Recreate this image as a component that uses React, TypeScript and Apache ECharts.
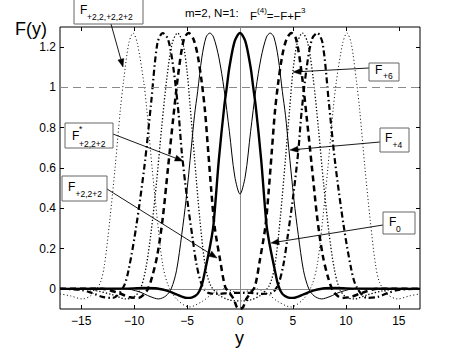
import React, { useEffect, useRef } from 'react';
import * as echarts from 'echarts';

// Tick labels
const xTicks = [-15, -10, -5, 0, 5, 10, 15];
const yTicks = [0, 0.2, 0.4, 0.6, 0.8, 1, 1.2];

// F_0 : thick solid, single pulse at 0
const F0: [number, number][] = [
  [-17, 0], [-11, 0.001], [-9, 0.004], [-8, 0.003], [-7, -0.008], [-6, -0.027], [-5.5, -0.038],
  [-5, -0.045], [-4.5, -0.042], [-4, -0.025], [-3.6, 0.02], [-3.3, 0.09], [-2.8, 0.22], [-2.5, 0.32],
  [-2, 0.64], [-1.5, 0.9], [-1.25, 1.0], [-1, 1.1], [-0.5, 1.23], [0, 1.27],
  [0.5, 1.23], [1, 1.1], [1.25, 1.0], [1.5, 0.9], [2, 0.64], [2.5, 0.32], [2.8, 0.22], [3.3, 0.09],
  [3.6, 0.02], [4, -0.025], [4.5, -0.042], [5, -0.045], [5.5, -0.038], [6, -0.027], [7, -0.008],
  [8, 0.003], [9, 0.004], [11, 0.001], [17, 0],
];

// F_+4 : thin solid, two pulses at +-2.85
const F4: [number, number][] = [
  [-17, 0], [-11, 0.002], [-9.5, -0.015], [-8.5, -0.038], [-7.7, -0.05], [-7, -0.035], [-6.5, 0],
  [-6, 0.09], [-5.5, 0.27], [-5.1, 0.44], [-4.6, 0.7], [-4.3, 0.86], [-4, 0.98], [-3.6, 1.15],
  [-3.2, 1.25], [-2.85, 1.27], [-2.5, 1.25], [-2, 1.15], [-1.5, 0.99], [-1, 0.78], [-0.5, 0.56], [0, 0.47],
  [0.5, 0.56], [1, 0.78], [1.5, 0.99], [2, 1.15], [2.5, 1.25], [2.85, 1.27], [3.2, 1.25], [3.6, 1.15],
  [4, 0.98], [4.3, 0.86], [4.6, 0.7], [5.1, 0.44], [5.5, 0.27], [6, 0.09], [6.5, 0], [7, -0.035],
  [7.7, -0.05], [8.5, -0.038], [9.5, -0.015], [11, 0.002], [17, 0],
];

// F_+2,2+2 : thick dashed, pulses at +-4.85
const F222: [number, number][] = [
  [-17, 0], [-13, 0], [-11.5, -0.02], [-10.5, -0.04], [-9.6, -0.045], [-8.8, -0.01], [-8.3, 0.06],
  [-7.8, 0.17], [-7.3, 0.35], [-6.8, 0.6], [-6.3, 0.85], [-5.85, 1.06], [-5.3, 1.24], [-4.85, 1.27],
  [-4.4, 1.24], [-4, 1.16], [-3.6, 1.02], [-3.3, 0.88], [-3, 0.68], [-2.7, 0.48], [-2.4, 0.31],
  [-1.9, 0.15], [-1.4, 0.01], [-1, -0.02], [-0.6, -0.05], [-0.3, -0.09], [0, -0.1],
  [0.3, -0.09], [0.6, -0.05], [1, -0.02], [1.4, 0.01], [1.9, 0.15], [2.4, 0.31], [2.7, 0.48],
  [3, 0.68], [3.3, 0.88], [3.6, 1.02], [4, 1.16], [4.4, 1.24], [4.85, 1.27], [5.3, 1.24], [5.85, 1.06],
  [6.3, 0.85], [6.8, 0.6], [7.3, 0.35], [7.8, 0.17], [8.3, 0.06], [8.8, -0.01], [9.6, -0.045],
  [10.5, -0.04], [11.5, -0.02], [13, 0], [17, 0],
];

// F*_+2,2+2 : thick dash-dot, pulses at +-7.3
const FStar: [number, number][] = [
  [-17, 0], [-15, -0.005], [-14, -0.02], [-13, -0.04], [-12, -0.045], [-11, 0.01], [-10.5, 0.1],
  [-9.8, 0.31], [-9, 0.62], [-8.4, 0.92], [-7.8, 1.22], [-7.3, 1.27], [-6.8, 1.24], [-6.3, 1.1],
  [-5.8, 0.87], [-5.5, 0.68], [-5, 0.45], [-4.5, 0.26], [-4.1, 0.12], [-3.6, 0.02], [-3, -0.02],
  [-2, -0.025], [-1, -0.02], [0, -0.02],
  [1, -0.02], [2, -0.025], [3, -0.02], [3.6, 0.02], [4.1, 0.12], [4.5, 0.26], [5, 0.45], [5.5, 0.68],
  [5.8, 0.87], [6.3, 1.1], [6.8, 1.24], [7.3, 1.27], [7.8, 1.22], [8.4, 0.92], [9, 0.62], [9.8, 0.31],
  [10.5, 0.1], [11, 0.01], [12, -0.045], [13, -0.04], [14, -0.02], [15, -0.005], [17, 0],
];

// F_+6 : dotted, pulses at +-5.9
const F6: [number, number][] = [
  [-17, 0], [-15, 0], [-13.5, -0.01], [-12, -0.03], [-10.8, -0.05], [-10, -0.04], [-9.4, 0],
  [-8.9, 0.1], [-8.4, 0.28], [-7.9, 0.52], [-7.4, 0.8], [-6.9, 1.05], [-6.4, 1.22], [-5.9, 1.27],
  [-5.4, 1.22], [-5, 1.08], [-4.7, 0.9], [-4.3, 0.65], [-3.8, 0.35], [-3.3, 0.12], [-2.8, 0.02],
  [-2, -0.03], [-1, -0.055], [0, -0.06],
  [1, -0.055], [2, -0.03], [2.8, 0.02], [3.3, 0.12], [3.8, 0.35], [4.3, 0.65], [4.7, 0.9], [5, 1.08],
  [5.4, 1.22], [5.9, 1.27], [6.4, 1.22], [6.9, 1.05], [7.4, 0.8], [7.9, 0.52], [8.4, 0.28], [8.9, 0.1],
  [9.4, 0], [10, -0.04], [10.8, -0.05], [12, -0.03], [13.5, -0.01], [15, 0], [17, 0],
];

// F_+2,2,+2,2+2 : thin dotted, pulses at +-10.1
const F22222: [number, number][] = [
  [-17, -0.025], [-16, -0.035], [-14.9, -0.05], [-14, -0.03], [-13.2, 0.03], [-12.8, 0.12],
  [-12.3, 0.34], [-11.8, 0.6], [-11.3, 0.89], [-11, 1.03], [-10.5, 1.22], [-10.1, 1.27], [-9.7, 1.22],
  [-9.1, 1.03], [-8.8, 0.89], [-8.3, 0.6], [-7.8, 0.34], [-7.3, 0.12], [-6.8, 0.02], [-6, -0.05],
  [-4.8, -0.09], [-3.5, -0.06], [-2.5, -0.02], [-1.5, 0], [0, -0.02],
  [1.5, 0], [2.5, -0.02], [3.5, -0.06], [4.8, -0.09], [6, -0.05], [6.8, 0.02], [7.3, 0.12], [7.8, 0.34],
  [8.3, 0.6], [8.8, 0.89], [9.1, 1.03], [9.7, 1.22], [10.1, 1.27], [10.5, 1.22], [11, 1.03], [11.3, 0.89],
  [11.8, 0.6], [12.3, 0.34], [12.8, 0.12], [13.2, 0.03], [14, -0.03], [14.9, -0.05], [16, -0.035],
  [17, -0.025],
];

const FONT = 'Liberation Sans, Arial, Helvetica, sans-serif';

function txt(x: number, y: number, s: string, size: number, extra: any = {}) {
  return {
    type: 'text', x, y, z: 110,
    style: { text: s, fontSize: size, fontFamily: FONT, fill: '#000', verticalAlign: 'middle', align: 'left', ...extra },
  };
}
function box(x: number, y: number, w: number, h: number) {
  return {
    type: 'rect', z: 105, shape: { x, y, width: w, height: h },
    style: { fill: '#fff', stroke: '#666', lineWidth: 1 },
  };
}
function arrow(x1: number, y1: number, x2: number, y2: number) {
  const dx = x2 - x1, dy = y2 - y1;
  const L = Math.sqrt(dx * dx + dy * dy);
  const ux = dx / L, uy = dy / L;
  const len = 8, hw = 3;
  const bx = x2 - ux * len, by = y2 - uy * len;
  return [
    { type: 'line', z: 104, shape: { x1, y1, x2: bx, y2: by }, style: { stroke: '#000', lineWidth: 0.9 } },
    {
      type: 'polygon', z: 104,
      shape: { points: [[x2, y2], [bx - uy * hw, by + ux * hw], [bx + uy * hw, by - ux * hw]] },
      style: { fill: '#000', stroke: '#000', lineWidth: 0.5 },
    },
  ];
}

export default function App() {
  const ref = useRef<HTMLDivElement>(null);
  useEffect(() => {
    const chart = echarts.init(ref.current!, null, { renderer: 'svg' });
    const line = (name: string, data: [number, number][], width: number, type: any, z: number) => ({
      name, type: 'line', data, showSymbol: false, smooth: 0.3, z,
      lineStyle: { color: '#000', width, type },
    });
    const axisLabelFmt = (v: number) => String(v).replace('-', '\u2212');
    const noLine = { show: false, onZero: false };
    const option: any = {
      animation: false,
      backgroundColor: '#fff',
      grid: { left: 60, right: 44, top: 27, bottom: 39, show: true, borderColor: '#000', borderWidth: 1, backgroundColor: 'transparent' },
      xAxis: [
        {
          type: 'value', min: -17, max: 17, position: 'bottom',
          axisLine: noLine, splitLine: { show: false },
          axisTick: { show: true, inside: true, length: 4, customValues: xTicks, lineStyle: { color: '#000' } },
          axisLabel: { customValues: xTicks, formatter: axisLabelFmt, color: '#000', fontSize: 12, fontFamily: FONT, margin: 6 },
        },
        {
          type: 'value', min: -17, max: 17, position: 'top',
          axisLine: noLine, splitLine: { show: false },
          axisTick: { show: true, inside: true, length: 4, customValues: xTicks, lineStyle: { color: '#000' } },
          axisLabel: { show: false },
        },
      ],
      yAxis: [
        {
          type: 'value', min: -0.1, max: 1.3, position: 'left',
          axisLine: noLine, splitLine: { show: false },
          axisTick: { show: true, inside: true, length: 4, customValues: yTicks, lineStyle: { color: '#000' } },
          axisLabel: { customValues: yTicks, color: '#000', fontSize: 12, fontFamily: FONT, margin: 4 },
        },
        {
          type: 'value', min: -0.1, max: 1.3, position: 'right',
          axisLine: noLine, splitLine: { show: false },
          axisTick: { show: true, inside: true, length: 4, customValues: yTicks, lineStyle: { color: '#000' } },
          axisLabel: { show: false },
        },
      ],
      series: [
        {
          type: 'line', data: [], z: 1, silent: true,
          markLine: {
            silent: true, symbol: ['none', 'none'], label: { show: false }, animation: false,
            data: [
              { xAxis: 0, lineStyle: { color: '#8a8a8a', width: 1, type: 'solid' } },
              { yAxis: 0, lineStyle: { color: '#8a8a8a', width: 1, type: 'solid' } },
              { yAxis: 1, lineStyle: { color: '#8a8a8a', width: 1.2, type: [8, 5] } },
            ],
          },
        },
        line('F_+2,2,+2,2+2', F22222, 1, [1, 2.5], 2),
        line('F_+6', F6, 1.3, [1.3, 2], 3),
        line('F*_+2,2+2', FStar, 2.2, [6, 3, 1.5, 3], 4),
        line('F_+2,2+2', F222, 2.5, [6, 4], 5),
        line('F_+4', F4, 1, 'solid', 6),
        line('F_0', F0, 2.4, 'solid', 7),
      ],
      graphic: [
        txt(15, 29, 'F(y)', 18),
        txt(235, 338, 'y', 18),
        txt(185, 13, 'm=2, N=1:', 11.5),
        {
          type: 'text', x: 250, y: 6, z: 110,
          style: {
            text: '{n|F}{s|(4)}{n|=\u2212F+F}{s|3}', fontFamily: FONT, fill: '#000',
            rich: {
              n: { fontSize: 11.5, lineHeight: 16, verticalAlign: 'bottom', fontFamily: FONT },
              s: { fontSize: 8, lineHeight: 16, verticalAlign: 'top', fontFamily: FONT },
            },
          },
        },
        // F_+2,2,+2,2+2
        box(74, -5, 69, 29), txt(80, 10, 'F', 12), txt(87, 16.5, '+2,2,+2,2+2', 8.5),
        ...arrow(111, 24, 123, 67),
        // F_+6
        box(369, 63, 30, 18), txt(375, 70, 'F', 12), txt(383, 75.5, '+6', 8.5),
        ...arrow(369, 68, 293, 72),
        // F_+4
        box(380, 128, 29, 24), txt(385, 138, 'F', 12), txt(392.5, 145, '+4', 8.5),
        ...arrow(380, 142, 290, 150),
        // F_0
        box(383, 212, 32, 22), txt(389, 222, 'F', 12), txt(396, 229, '0', 8.5),
        ...arrow(383, 225, 271, 243),
        // F*_+2,2+2
        box(65, 123, 48, 25), txt(72, 136, 'F', 12), txt(79, 129, '*', 8.5), txt(79, 143.5, '+2,2+2', 8.5),
        ...arrow(113, 134, 183, 161),
        // F_+2,2+2
        box(62, 176, 45, 25), txt(68, 187, 'F', 12), txt(75.5, 194, '+2,2+2', 8.5),
        ...arrow(107, 189, 217, 258),
      ],
    };
    chart.setOption(option);
    return () => chart.dispose();
  }, []);
  return <div ref={ref} style={{ position: 'fixed', left: 0, top: 0, width: 464, height: 348, background: '#fff' }} />;
}
